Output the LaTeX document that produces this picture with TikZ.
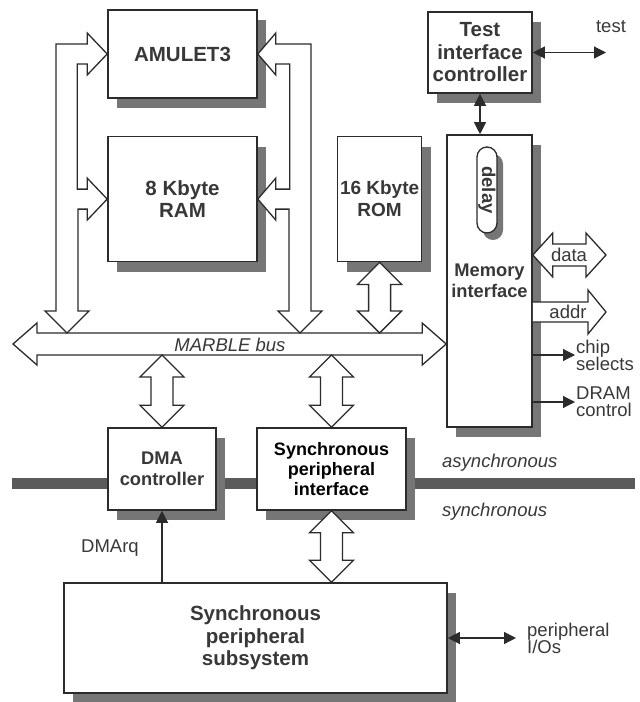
\documentclass[tikz,border=0pt]{standalone}
\usepackage{fontspec}
\setmainfont{Liberation Sans}
\usepackage{xcolor}
\definecolor{cLine}{HTML}{2B2B2B}
\definecolor{cText}{HTML}{383838}
\definecolor{cShadow}{HTML}{767676}
\definecolor{cBar}{HTML}{5A5A5A}
\usepackage{tikz}
\usetikzlibrary{positioning,arrows.meta,calc,shadows}
\newcommand\boxfont{\fontsize{19}{22}\selectfont\bfseries}
\newcommand\bigboxfont{\fontsize{20.5}{22.5}\selectfont\bfseries}
\newcommand\smallboxfont{\fontsize{18.3}{21}\selectfont\bfseries}
\newcommand\spifont{\fontsize{18}{20}\selectfont\bfseries}
\newcommand\lblfont{\fontsize{18.5}{17}\selectfont\lineskiplimit=-6pt}
% hollow two-headed block arrow, upper tip #1, lower tip #2
\newcommand\vdblarrow[2]{%
  \draw[hollow] (#1) -- ++(22,22) -- ++(-11,0) -- ($(#2)+(11,-22)$)
    -- ++(11,0) -- (#2) -- ++(-22,-22) -- ++(11,0)
    -- ($(#1)+(-11,22)$) -- ++(-11,0) -- cycle;}
\tikzset{
  node-box/.style={draw=cLine,line width=1.6pt,fill=white,text=cText,
    font=\boxfont,align=center,inner sep=0pt,
    drop shadow={shadow xshift=9pt,shadow yshift=-10pt,fill=cShadow,opacity=1}},
  node-sync/.style={node-box,text=black,font=\spifont},
  node-delay/.style={draw=cLine,line width=1.3pt,fill=white,rounded corners=10pt,
    minimum width=20pt,minimum height=86pt,inner sep=0pt,text=cText,
    font=\lblfont\bfseries,
    drop shadow={shadow xshift=6pt,shadow yshift=-7pt,fill=cShadow,opacity=1}},
  lbl/.style={text=cText,font=\lblfont,inner sep=1pt,align=left},
  lbl-it/.style={text=cText,font=\lblfont\itshape,inner sep=0pt},
  hollow/.style={draw=cLine,line width=1.3pt,fill=white,line join=miter},
  arrow-sig/.style={-{Triangle[length=12pt,width=12pt]},line width=1.2pt,draw=cLine},
  arrow-both/.style={{Triangle[length=12pt,width=12pt]}-{Triangle[length=12pt,width=12pt]},
    line width=1.2pt,draw=cLine},
  sync-bar/.style={line width=11pt,draw=cBar},
}

\begin{document}
\begin{tikzpicture}[x=1pt,y=-1pt]
  \useasboundingbox (0,0) rectangle (640,702);
  % asynchronous / synchronous boundary
  \coordinate (barW) at (12,483);
  \coordinate (barE) at (635,483);
  \draw[sync-bar] (barW) -- (barE);

  \node[node-box,font=\bigboxfont,minimum width=149pt,minimum height=88pt] (amulet) at (182.5,54) {AMULET3};
  \node[node-box,font=\bigboxfont,minimum width=149pt,minimum height=125pt,below=37pt of amulet] (ram) {8 Kbyte\\RAM};
  \node[node-box,minimum width=84pt,minimum height=125pt,right=79pt of ram] (rom) {16 Kbyte\\ROM};
  \node[node-box,font=\bigboxfont,minimum width=104pt,minimum height=81pt] (tic) at (480,52.5) {Test\\interface\\controller};
  \node[node-box,font=\smallboxfont,minimum width=85pt,minimum height=292pt] (mem) at (489.5,281) {Memory\\interface};
  \node[node-delay] (delay) at (487,190) {\rotatebox{-90}{delay}};
  \node[node-box,font=\smallboxfont,minimum width=108pt,minimum height=82pt] (dma) at (162,469) {DMA\\controller};
  \node[node-sync,minimum width=149pt,minimum height=82pt] (spi) at (331.5,469) {Synchronous\\peripheral\\interface};
  \node[node-box,font=\bigboxfont,minimum width=383pt,minimum height=110pt] (sub) at (255.5,638) {Synchronous\\peripheral\\subsystem};

  % MARBLE bus
  \coordinate (busW) at (13,344);
  \coordinate (busE) at (busW -| mem.west);
  \coordinate (busN) at ($(busW)+(0,-11)$);
  \coordinate (busS) at ($(busW)+(0,11)$);
  \draw[hollow] (busW) -- ++(24,-21) -- ++(0,10) -- ($(busE)+(-24,-11)$) -- ++(0,-10)
    -- (busE) -- ++(-24,21) -- ++(0,-10) -- ($(busW)+(24,11)$) -- ++(0,10) -- cycle;
  \node[lbl-it] (buslbl) at (230,345) {MARBLE bus};

  \coordinate (treeL) at ($(busN)+(54,0)$);
  \coordinate (treeR) at ($(busN)+(287,0)$);
  \draw[hollow] (treeL) -- ++(22,-22) -- ++(-11,0) |- ($(ram.west)+(-20,10)$) -- ++(0,11)
    -- (ram.west) -- ++(-20,-21) -- ++(0,11) -- ++(-10,0) |- ($(amulet.west)+(-20,10)$)
    -- ++(0,11) -- (amulet.west) -- ++(-20,-21) -- ++(0,11) -| ($(treeL)+(-11,-22)$)
    -- ++(-11,0) -- cycle;
  \draw[hollow] (treeR) -- ++(-22,-22) -- ++(11,0) |- ($(ram.east)+(18,10)$) -- ++(0,11)
    -- (ram.east) -- ++(18,-21) -- ++(0,11) -- ++(14,0) |- ($(amulet.east)+(18,10)$)
    -- ++(0,11) -- (amulet.east) -- ++(18,-21) -- ++(0,11) -| ($(treeR)+(11,-22)$)
    -- ++(11,0) -- cycle;

  \coordinate (romBus) at (rom.south |- busN);
  \coordinate (dmaBus) at (dma.north |- busS);
  \coordinate (spiBus) at (spi.north |- busS);
  \coordinate (spiSub) at (spi.south |- sub.north);
  \vdblarrow{rom.south}{romBus}
  \vdblarrow{dmaBus}{dma.north}
  \vdblarrow{spiBus}{spi.north}
  \vdblarrow{spi.south}{spiSub}

  % memory interface outputs
  \coordinate (dataE) at (606,255);
  \coordinate (dataW) at (mem.east |- dataE);
  \draw[hollow] (dataW) -- ++(20,-22) -- ++(0,11) -- ($(dataE)+(-20,-11)$) -- ++(0,-11)
    -- (dataE) -- ++(-20,22) -- ++(0,-11) -- ($(dataW)+(20,11)$) -- ++(0,11) -- cycle;
  \node[lbl] (datalbl) at (569,255) {data};
  \coordinate (addrE) at (606,312);
  \coordinate (addrW) at (mem.east |- addrE);
  \draw[hollow] ($(addrW)+(0,-10)$) -- ($(addrE)+(-18,-10)$) -- ++(0,-12) -- (addrE)
    -- ++(-18,22) -- ++(0,-12) -- ($(addrW)+(0,10)$);
  \node[lbl] (addrlbl) at (568,312) {addr};
  \node[lbl,anchor=west] (chiplbl) at (575,355) {chip\\selects};
  \node[lbl,anchor=west] (dramlbl) at (575,402) {DRAM\\control};
  \draw[arrow-sig] (mem.east |- chiplbl.west) -- (chiplbl.west);
  \draw[arrow-sig] (mem.east |- dramlbl.west) -- (dramlbl.west);

  \node[lbl] (testlbl) at (611,27) {test};
  \draw[arrow-both,shorten >=5pt] (tic.east) -- (tic.east -| testlbl.south);
  \draw[arrow-both] (tic.south) -- (tic.south |- mem.north);

  \node[lbl] (dmarqlbl) at (110,548) {DMArq};
  \draw[arrow-sig] (dma.south |- sub.north) -- (dma.south);
  \node[lbl,anchor=west] (iolbl) at (526,638) {peripheral\\I/Os};
  \draw[arrow-both,shorten >=10pt] (sub.east |- iolbl.west) -- (iolbl.west);

  \node[lbl-it,anchor=west] (asynclbl) at (442,463) {asynchronous};
  \node[lbl-it,anchor=west] (synclbl) at (442,512) {synchronous};
\end{tikzpicture}
\end{document}
